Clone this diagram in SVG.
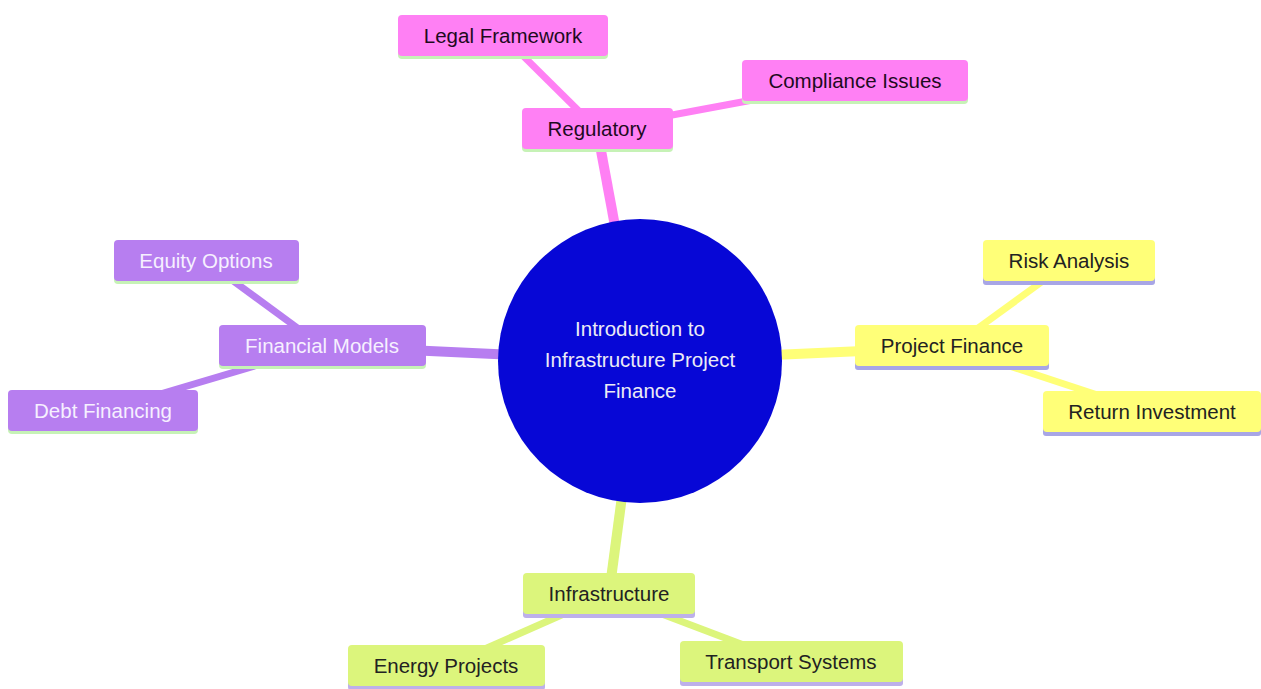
<svg xmlns="http://www.w3.org/2000/svg" width="1261" height="689" viewBox="0 0 1261 689">
<style>
text{font-family:"Liberation Sans",Arial,sans-serif;font-size:20.5px;text-anchor:middle}
.e0{stroke-width:10;stroke-linecap:butt;fill:none}
.e1{stroke-width:7;stroke-linecap:butt;fill:none}
.pink{fill:#ff80f4}
.purple{fill:#b77ef0}
.yellow{fill:#ffff78}
.green{fill:#dcf57c}
.spink{stroke:#ff80f4}
.spurple{stroke:#b77ef0}
.syellow{stroke:#ffff78}
.sgreen{stroke:#dcf57c}
.bpink,.bpurple{fill:#c6f2b6}
.byellow{fill:#a8a6e6}
.bgreen{fill:#bdb0ea}
.tdark{fill:#1e0a1e}
.tblk{fill:#222222}
.twhite{fill:#f6f0ff}
</style>
<rect width="1261" height="689" fill="#ffffff"/>
<g id="connectors">
<line class="e0 spink" x1="640" y1="361" x2="597" y2="129"/>
<line class="e0 spurple" x1="640" y1="361" x2="322" y2="346"/>
<line class="e0 syellow" x1="640" y1="361" x2="952" y2="347"/>
<line class="e0 sgreen" x1="640" y1="361" x2="609" y2="594"/>
<line class="e1 spink" x1="597" y1="129" x2="503" y2="36"/>
<line class="e1 spink" x1="597" y1="129" x2="855" y2="81"/>
<line class="e1 spurple" x1="322" y1="346" x2="206" y2="261"/>
<line class="e1 spurple" x1="322" y1="346" x2="103" y2="411"/>
<line class="e1 syellow" x1="952" y1="347" x2="1069" y2="262"/>
<line class="e1 syellow" x1="952" y1="347" x2="1152" y2="413"/>
<line class="e1 sgreen" x1="609" y1="594" x2="446" y2="666"/>
<line class="e1 sgreen" x1="609" y1="594" x2="791" y2="663"/>
</g>
<g id="root">
<circle cx="640" cy="361" r="142" fill="#0707d6"/>
<text x="640" y="336" fill="#ecebf5">Introduction to</text>
<text x="640" y="367" fill="#ecebf5">Infrastructure Project</text>
<text x="640" y="398" fill="#ecebf5">Finance</text>
</g>
<g id="regulatory">
<rect class="bpink" x="522" y="110" width="151" height="42" rx="4"/>
<rect class="pink" x="522" y="108" width="151" height="41" rx="4"/>
<text class="tdark" x="597" y="136">Regulatory</text>
</g>
<g id="legal">
<rect class="bpink" x="398" y="17" width="210" height="42" rx="4"/>
<rect class="pink" x="398" y="15" width="210" height="41" rx="4"/>
<text class="tdark" x="503" y="43">Legal Framework</text>
</g>
<g id="compliance">
<rect class="bpink" x="742" y="62" width="226" height="42" rx="4"/>
<rect class="pink" x="742" y="60" width="226" height="41" rx="4"/>
<text class="tdark" x="855" y="88">Compliance Issues</text>
</g>
<g id="financial-models">
<rect class="bpurple" x="219" y="327" width="207" height="42" rx="4"/>
<rect class="purple" x="219" y="325" width="207" height="41" rx="4"/>
<text class="twhite" x="322" y="353">Financial Models</text>
</g>
<g id="equity">
<rect class="bpurple" x="114" y="242" width="185" height="42" rx="4"/>
<rect class="purple" x="114" y="240" width="185" height="41" rx="4"/>
<text class="twhite" x="206" y="268">Equity Options</text>
</g>
<g id="debt">
<rect class="bpurple" x="8" y="392" width="190" height="42" rx="4"/>
<rect class="purple" x="8" y="390" width="190" height="41" rx="4"/>
<text class="twhite" x="103" y="418">Debt Financing</text>
</g>
<g id="project-finance">
<rect class="byellow" x="855" y="328" width="194" height="42" rx="3"/>
<rect class="yellow" x="855" y="325" width="194" height="41" rx="4"/>
<text class="tblk" x="952" y="353">Project Finance</text>
</g>
<g id="risk">
<rect class="byellow" x="983" y="243" width="172" height="42" rx="3"/>
<rect class="yellow" x="983" y="240" width="172" height="41" rx="4"/>
<text class="tblk" x="1069" y="268">Risk Analysis</text>
</g>
<g id="return">
<rect class="byellow" x="1043" y="394" width="218" height="42" rx="3"/>
<rect class="yellow" x="1043" y="391" width="218" height="41" rx="4"/>
<text class="tblk" x="1152" y="419">Return Investment</text>
</g>
<g id="infrastructure">
<rect class="bgreen" x="523" y="576" width="172" height="42" rx="3"/>
<rect class="green" x="523" y="573" width="172" height="41" rx="4"/>
<text class="tblk" x="609" y="601">Infrastructure</text>
</g>
<g id="energy">
<rect class="bgreen" x="348" y="648" width="197" height="42" rx="3"/>
<rect class="green" x="348" y="645" width="197" height="41" rx="4"/>
<text class="tblk" x="446" y="673">Energy Projects</text>
</g>
<g id="transport">
<rect class="bgreen" x="680" y="644" width="223" height="42" rx="3"/>
<rect class="green" x="680" y="641" width="223" height="41" rx="4"/>
<text class="tblk" x="791" y="669">Transport Systems</text>
</g>
</svg>
